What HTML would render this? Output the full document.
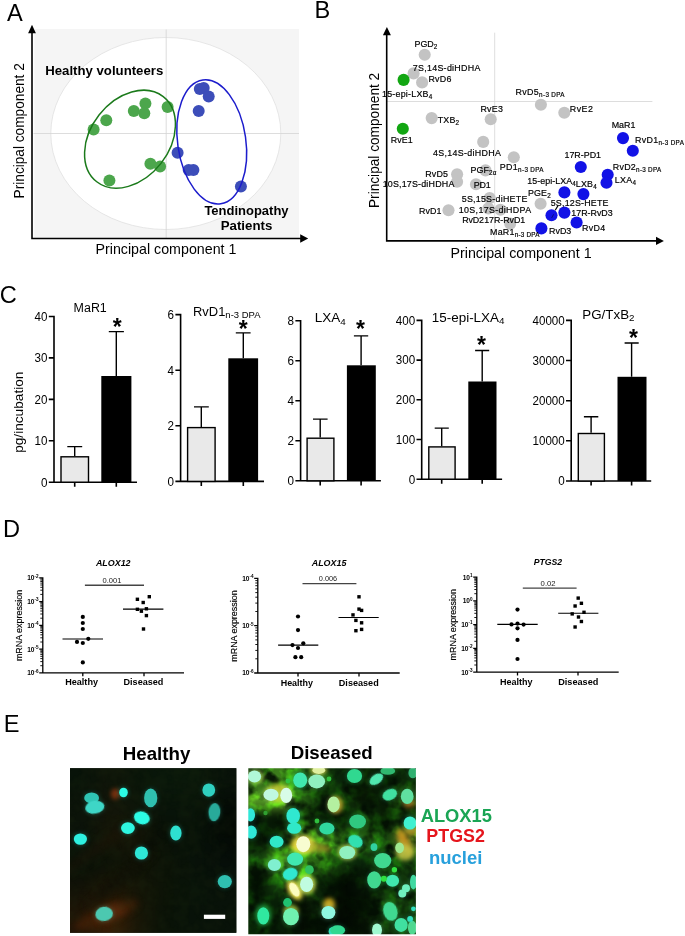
<!DOCTYPE html>
<html><head><meta charset="utf-8"><title>Figure</title>
<style>
html,body{margin:0;padding:0;background:#fff}
svg{display:block;font-family:"Liberation Sans", sans-serif}
</style></head><body>
<svg width="685" height="936" viewBox="0 0 685 936">
<rect width="685" height="936" fill="#fff"/>
<g id="panelA">
<rect x="34.3" y="29" width="264.7" height="209" fill="#f5f5f5"/>
<ellipse cx="165.8" cy="133.5" rx="115" ry="96" fill="#fff" stroke="#dcdcdc" stroke-width="0.7"/>
<path d="M33.5 133.5H299M166.2 29.5V238" stroke="#d4d4d4" stroke-width="0.8" fill="none"/>
<circle cx="93.6" cy="129.6" r="6" fill="#4ca64c"/>
<circle cx="106.3" cy="120.2" r="6" fill="#4ca64c"/>
<circle cx="133.8" cy="111.1" r="6" fill="#4ca64c"/>
<circle cx="145.4" cy="103.6" r="6" fill="#4ca64c"/>
<circle cx="144.3" cy="113.3" r="6" fill="#4ca64c"/>
<circle cx="167.6" cy="106.9" r="6" fill="#4ca64c"/>
<circle cx="150.4" cy="163.8" r="6" fill="#4ca64c"/>
<circle cx="160.1" cy="166.5" r="6" fill="#4ca64c"/>
<circle cx="109.4" cy="180.4" r="6" fill="#4ca64c"/>
<circle cx="199.8" cy="88.9" r="6" fill="#3c4db9"/>
<circle cx="203.7" cy="88.0" r="6" fill="#3c4db9"/>
<circle cx="208.7" cy="96.6" r="6" fill="#3c4db9"/>
<circle cx="198.7" cy="111.1" r="6" fill="#3c4db9"/>
<circle cx="177.6" cy="152.7" r="6" fill="#3c4db9"/>
<circle cx="188.7" cy="170.1" r="6" fill="#3c4db9"/>
<circle cx="193.4" cy="170.1" r="6" fill="#3c4db9"/>
<circle cx="240.9" cy="186.5" r="6" fill="#3c4db9"/>
<ellipse cx="130" cy="139.2" rx="54" ry="39.3" transform="rotate(-52 130 139.2)" fill="none" stroke="#1b7a1b" stroke-width="1.5"/>
<ellipse cx="211.75" cy="141.85" rx="34.1" ry="62.6" transform="rotate(-8.2 211.75 141.85)" fill="none" stroke="#1c1ccc" stroke-width="1.5"/>
<path d="M32 32V238.5H301" stroke="#000" stroke-width="1.6" fill="none"/>
<path d="M32 24.8L28.1 33.2H35.9ZM308.2 238.5L300.2 234.3V242.7Z" fill="#000"/>
<text x="6.9" y="20.7" font-size="23.6" fill="#000">A</text>
<text x="45.2" y="74.9" font-size="13" font-weight="bold" textLength="118.1" lengthAdjust="spacingAndGlyphs" fill="#000">Healthy volunteers</text>
<text x="204.4" y="215" font-size="13" font-weight="bold" textLength="84.2" lengthAdjust="spacingAndGlyphs" fill="#000">Tendinopathy</text>
<text x="220.7" y="230" font-size="13" font-weight="bold" textLength="51.6" lengthAdjust="spacingAndGlyphs" fill="#000">Patients</text>
<text x="95.5" y="254.4" font-size="14.6" textLength="140.9" lengthAdjust="spacingAndGlyphs" fill="#000">Principal component 1</text>
<text x="23.7" y="198.4" font-size="15" textLength="135.2" lengthAdjust="spacingAndGlyphs" fill="#000" transform="rotate(-90 23.7 198.4)">Principal component 2</text>
</g>
<g id="panelB">
<path d="M386.7 101.5H652.4M494.7 32.7V240.8" stroke="#d4d4d4" stroke-width="0.8" fill="none"/>
<circle cx="424.7" cy="54.8" r="6.05" fill="#c3c3c3"/>
<circle cx="413.6" cy="73.4" r="6.05" fill="#c3c3c3"/>
<circle cx="422.1" cy="82.4" r="6.05" fill="#c3c3c3"/>
<circle cx="431.7" cy="118.1" r="6.05" fill="#c3c3c3"/>
<circle cx="490.7" cy="119.3" r="6.05" fill="#c3c3c3"/>
<circle cx="540.9" cy="104.8" r="6.05" fill="#c3c3c3"/>
<circle cx="564.3" cy="112.8" r="6.05" fill="#c3c3c3"/>
<circle cx="483.2" cy="141.9" r="6.05" fill="#c3c3c3"/>
<circle cx="513.8" cy="157.2" r="6.05" fill="#c3c3c3"/>
<circle cx="485.5" cy="170.4" r="6.05" fill="#c3c3c3"/>
<circle cx="457.1" cy="174.2" r="6.05" fill="#c3c3c3"/>
<circle cx="457.1" cy="181.8" r="6.05" fill="#c3c3c3"/>
<circle cx="476" cy="184.3" r="6.05" fill="#c3c3c3"/>
<circle cx="489.7" cy="198" r="6.05" fill="#c3c3c3"/>
<circle cx="448.5" cy="210.3" r="6.05" fill="#c3c3c3"/>
<circle cx="488.4" cy="208.4" r="6.05" fill="#c3c3c3"/>
<circle cx="500.4" cy="209.7" r="6.05" fill="#c3c3c3"/>
<circle cx="510.2" cy="223.6" r="6.05" fill="#c3c3c3"/>
<circle cx="540.6" cy="203.7" r="6.05" fill="#c3c3c3"/>
<circle cx="403.6" cy="79.9" r="6.05" fill="#12a612"/>
<circle cx="402.8" cy="128.8" r="6.05" fill="#12a612"/>
<circle cx="623" cy="138.1" r="6.05" fill="#1212e6"/>
<circle cx="632.8" cy="150.7" r="6.05" fill="#1212e6"/>
<circle cx="580.8" cy="167" r="6.05" fill="#1212e6"/>
<circle cx="607.7" cy="174.8" r="6.05" fill="#1212e6"/>
<circle cx="606.5" cy="182.8" r="6.05" fill="#1212e6"/>
<circle cx="564.4" cy="192.4" r="6.05" fill="#1212e6"/>
<circle cx="583.4" cy="194.1" r="6.05" fill="#1212e6"/>
<circle cx="564.4" cy="212.6" r="6.05" fill="#1212e6"/>
<circle cx="551.5" cy="215.3" r="6.05" fill="#1212e6"/>
<circle cx="576.6" cy="222.5" r="6.05" fill="#1212e6"/>
<circle cx="541.4" cy="228.4" r="6.05" fill="#1212e6"/>
<path d="M558 205.6L555.2 210.3" stroke="#000" stroke-width="1.1"/>
<path d="M553.6 214.3L551.6 218" stroke="#08087a" stroke-width="0.9"/>
<text x="414.6" y="47" font-size="8.9" textLength="22.6" lengthAdjust="spacing" fill="#000" stroke="#000" stroke-width="0.18">PGD<tspan font-size="6.3" dy="2">2</tspan></text>
<text x="412.8" y="71.1" font-size="8.9" textLength="67.6" lengthAdjust="spacing" fill="#000" stroke="#000" stroke-width="0.18">7S,14S-diHDHA</text>
<text x="428.4" y="82.2" font-size="8.9" textLength="23.1" lengthAdjust="spacing" fill="#000" stroke="#000" stroke-width="0.18">RvD6</text>
<text x="382" y="96.7" font-size="8.9" textLength="50.2" lengthAdjust="spacing" fill="#000" stroke="#000" stroke-width="0.18">15-epi-LXB<tspan font-size="6.3" dy="2">4</tspan></text>
<text x="437.7" y="123" font-size="8.9" textLength="21.3" lengthAdjust="spacing" fill="#000" stroke="#000" stroke-width="0.18">TXB<tspan font-size="6.3" dy="2">2</tspan></text>
<text x="480.4" y="112" font-size="8.9" textLength="22.6" lengthAdjust="spacing" fill="#000" stroke="#000" stroke-width="0.18">RvE3</text>
<text x="515.5" y="95" font-size="8.9" textLength="49.0" lengthAdjust="spacing" fill="#000" stroke="#000" stroke-width="0.18">RvD5<tspan font-size="6.3" dy="2">n-3 DPA</tspan></text>
<text x="569.8" y="111.8" font-size="8.9" textLength="23.1" lengthAdjust="spacing" fill="#000" stroke="#000" stroke-width="0.18">RvE2</text>
<text x="611.7" y="127.5" font-size="8.9" textLength="23.7" lengthAdjust="spacing" fill="#000" stroke="#000" stroke-width="0.18">MaR1</text>
<text x="390.7" y="142.6" font-size="8.9" textLength="22.1" lengthAdjust="spacing" fill="#000" stroke="#000" stroke-width="0.18">RvE1</text>
<text x="433" y="155.9" font-size="8.9" textLength="67.8" lengthAdjust="spacing" fill="#000" stroke="#000" stroke-width="0.18">4S,14S-diHDHA</text>
<text x="470.6" y="173.3" font-size="8.9" textLength="25.7" lengthAdjust="spacing" fill="#000" stroke="#000" stroke-width="0.18">PGF<tspan font-size="6.3" dy="2">2α</tspan></text>
<text x="499.8" y="169.5" font-size="8.9" textLength="43.7" lengthAdjust="spacing" fill="#000" stroke="#000" stroke-width="0.18">PD1<tspan font-size="6.3" dy="2">n-3 DPA</tspan></text>
<text x="425.2" y="176.5" font-size="8.9" textLength="22.8" lengthAdjust="spacing" fill="#000" stroke="#000" stroke-width="0.18">RvD5</text>
<text x="382.7" y="187" font-size="8.9" textLength="71.6" lengthAdjust="spacing" fill="#000" stroke="#000" stroke-width="0.18">10S,17S-diHDHA</text>
<text x="473.7" y="187.8" font-size="8.9" textLength="17.0" lengthAdjust="spacing" fill="#000" stroke="#000" stroke-width="0.18">PD1</text>
<text x="461.7" y="201.5" font-size="8.9" textLength="65.6" lengthAdjust="spacing" fill="#000" stroke="#000" stroke-width="0.18">5S,15S-diHETE</text>
<text x="418.9" y="213.5" font-size="8.9" textLength="22.6" lengthAdjust="spacing" fill="#000" stroke="#000" stroke-width="0.18">RvD1</text>
<text x="458.8" y="212.8" font-size="8.9" textLength="72.3" lengthAdjust="spacing" fill="#000" stroke="#000" stroke-width="0.18">10S,17S-diHDPA</text>
<text x="462.2" y="223.2" font-size="8.9" textLength="21.8" lengthAdjust="spacing" fill="#000" stroke="#000" stroke-width="0.18">RvD2</text>
<text x="484.2" y="223.3" font-size="8.9" textLength="41.1" lengthAdjust="spacing" fill="#000" stroke="#000" stroke-width="0.18">17R-RvD1</text>
<text x="490" y="234.6" font-size="8.9" textLength="49.5" lengthAdjust="spacing" fill="#000" stroke="#000" stroke-width="0.18">MaR1<tspan font-size="6.3" dy="2">n-3 DPA</tspan></text>
<text x="634.9" y="142.6" font-size="8.9" textLength="49.0" lengthAdjust="spacing" fill="#000" stroke="#000" stroke-width="0.18">RvD1<tspan font-size="6.3" dy="2">n-3 DPA</tspan></text>
<text x="564.5" y="157.7" font-size="8.9" textLength="36.5" lengthAdjust="spacing" fill="#000" stroke="#000" stroke-width="0.18">17R-PD1</text>
<text x="612.7" y="170.3" font-size="8.9" textLength="48.5" lengthAdjust="spacing" fill="#000" stroke="#000" stroke-width="0.18">RvD2<tspan font-size="6.3" dy="2">n-3 DPA</tspan></text>
<text x="614.8" y="183.3" font-size="8.9" textLength="21.3" lengthAdjust="spacing" fill="#000" stroke="#000" stroke-width="0.18">LXA<tspan font-size="6.3" dy="2">4</tspan></text>
<text x="527.3" y="183.6" font-size="8.9" textLength="48.5" lengthAdjust="spacing" fill="#000" stroke="#000" stroke-width="0.18">15-epi-LXA<tspan font-size="6.3" dy="2">4</tspan></text>
<text x="575.8" y="187.3" font-size="8.9" textLength="20.9" lengthAdjust="spacing" fill="#000" stroke="#000" stroke-width="0.18">LXB<tspan font-size="6.3" dy="2">4</tspan></text>
<text x="528" y="196.1" font-size="8.9" textLength="22.7" lengthAdjust="spacing" fill="#000" stroke="#000" stroke-width="0.18">PGE<tspan font-size="6.3" dy="2">2</tspan></text>
<text x="550.7" y="206.1" font-size="8.9" textLength="57.8" lengthAdjust="spacing" fill="#000" stroke="#000" stroke-width="0.18">5S,12S-HETE</text>
<text x="571.3" y="215.5" font-size="8.9" textLength="41.4" lengthAdjust="spacing" fill="#000" stroke="#000" stroke-width="0.18">17R-RvD3</text>
<text x="582" y="231.3" font-size="8.9" textLength="23.2" lengthAdjust="spacing" fill="#000" stroke="#000" stroke-width="0.18">RvD4</text>
<text x="549" y="233.6" font-size="8.9" textLength="22.3" lengthAdjust="spacing" fill="#000" stroke="#000" stroke-width="0.18">RvD3</text>
<path d="M386.7 34V240.9H657" stroke="#000" stroke-width="1.6" fill="none"/>
<path d="M386.9 27L382.9 35.3H390.9ZM663.9 240.9L656 236.7V245.1Z" fill="#000"/>
<text x="314.5" y="17.8" font-size="23.6" fill="#000">B</text>
<text x="450.5" y="257.7" font-size="14.6" textLength="141.1" lengthAdjust="spacingAndGlyphs" fill="#000">Principal component 1</text>
<text x="379.2" y="208" font-size="15" textLength="135.2" lengthAdjust="spacingAndGlyphs" fill="#000" transform="rotate(-90 379.2 208)">Principal component 2</text>
</g>
<g id="panelC">
<text x="-0.2" y="302.6" font-size="23.6" fill="#000">C</text>
<text x="22.6" y="452.8" font-size="13.6" textLength="81.2" lengthAdjust="spacingAndGlyphs" fill="#000" transform="rotate(-90 22.6 452.8)">pg/incubation</text>
<path d="M54 315.7V482.2M48.8 482.2H137M48.8 316.5H54M48.8 357.9H54M48.8 399.4H54M48.8 440.8H54M48.8 482.2H54M74.7 482.2V486.8M116.3 482.2V486.8" stroke="#000" stroke-width="1.6" fill="none"/>
<text x="47.5" y="320.8" font-size="12" text-anchor="end" textLength="12.9" lengthAdjust="spacingAndGlyphs" fill="#000">40</text>
<text x="47.5" y="362.2" font-size="12" text-anchor="end" textLength="12.9" lengthAdjust="spacingAndGlyphs" fill="#000">30</text>
<text x="47.5" y="403.7" font-size="12" text-anchor="end" textLength="12.9" lengthAdjust="spacingAndGlyphs" fill="#000">20</text>
<text x="47.5" y="445.1" font-size="12" text-anchor="end" textLength="12.9" lengthAdjust="spacingAndGlyphs" fill="#000">10</text>
<text x="47.5" y="486.5" font-size="12" text-anchor="end" textLength="6.5" lengthAdjust="spacingAndGlyphs" fill="#000">0</text>
<path d="M74.7 456.1V446.6M67.3 446.6H82.2" stroke="#000" stroke-width="1.4" fill="none"/>
<path d="M116.3 376V331.6M108.8 331.6H123.9" stroke="#000" stroke-width="1.4" fill="none"/>
<rect x="61.0" y="456.8" width="27.500000000000007" height="25.399999999999967" fill="#e9e9e9" stroke="#000" stroke-width="1.4"/>
<rect x="101.3" y="376" width="30.10000000000001" height="106.19999999999999" fill="#000"/>
<text x="117.3" y="335.3" font-size="23" font-weight="bold" text-anchor="middle" fill="#000">*</text>
<text x="73.6" y="311.5" font-size="12.3" textLength="33.2" lengthAdjust="spacingAndGlyphs" fill="#000">MaR1</text>
<path d="M180.6 313.8V481.4M175.4 481.4H264M175.4 314.6H180.6M175.4 370.2H180.6M175.4 425.8H180.6M175.4 481.4H180.6M201.3 481.4V486.0M243.3 481.4V486.0" stroke="#000" stroke-width="1.6" fill="none"/>
<text x="174.1" y="318.90000000000003" font-size="12" text-anchor="end" textLength="6.5" lengthAdjust="spacingAndGlyphs" fill="#000">6</text>
<text x="174.1" y="374.5" font-size="12" text-anchor="end" textLength="6.5" lengthAdjust="spacingAndGlyphs" fill="#000">4</text>
<text x="174.1" y="430.1" font-size="12" text-anchor="end" textLength="6.5" lengthAdjust="spacingAndGlyphs" fill="#000">2</text>
<text x="174.1" y="485.7" font-size="12" text-anchor="end" textLength="6.5" lengthAdjust="spacingAndGlyphs" fill="#000">0</text>
<path d="M201.3 426.9V406.9M194 406.9H208.8" stroke="#000" stroke-width="1.4" fill="none"/>
<path d="M243.3 358.3V332.9M235.8 332.9H250.6" stroke="#000" stroke-width="1.4" fill="none"/>
<rect x="187.6" y="427.59999999999997" width="27.500000000000007" height="53.8" fill="#e9e9e9" stroke="#000" stroke-width="1.4"/>
<rect x="228.3" y="358.3" width="29.80000000000001" height="123.09999999999997" fill="#000"/>
<text x="243.3" y="336.8" font-size="23" font-weight="bold" text-anchor="middle" fill="#000">*</text>
<text x="193" y="315.7" font-size="12.3" textLength="67.5" lengthAdjust="spacingAndGlyphs" fill="#000">RvD1<tspan font-size="9" dy="2.2">n-3 DPA</tspan></text>
<path d="M300.6 319.9V480.8M295.40000000000003 480.8H380.9M295.40000000000003 320.7H300.6M295.40000000000003 360.7H300.6M295.40000000000003 400.7H300.6M295.40000000000003 440.8H300.6M295.40000000000003 480.8H300.6M320.2 480.8V485.40000000000003M361.1 480.8V485.40000000000003" stroke="#000" stroke-width="1.6" fill="none"/>
<text x="294.1" y="325.0" font-size="12" text-anchor="end" textLength="6.5" lengthAdjust="spacingAndGlyphs" fill="#000">8</text>
<text x="294.1" y="365.0" font-size="12" text-anchor="end" textLength="6.5" lengthAdjust="spacingAndGlyphs" fill="#000">6</text>
<text x="294.1" y="405.0" font-size="12" text-anchor="end" textLength="6.5" lengthAdjust="spacingAndGlyphs" fill="#000">4</text>
<text x="294.1" y="445.1" font-size="12" text-anchor="end" textLength="6.5" lengthAdjust="spacingAndGlyphs" fill="#000">2</text>
<text x="294.1" y="485.1" font-size="12" text-anchor="end" textLength="6.5" lengthAdjust="spacingAndGlyphs" fill="#000">0</text>
<path d="M320.2 437.5V419.1M313 419.1H327.6" stroke="#000" stroke-width="1.4" fill="none"/>
<path d="M361.1 365.3V335.9M353.9 335.9H368.2" stroke="#000" stroke-width="1.4" fill="none"/>
<rect x="307.09999999999997" y="438.2" width="26.800000000000047" height="42.60000000000001" fill="#e9e9e9" stroke="#000" stroke-width="1.4"/>
<rect x="346.9" y="365.3" width="28.900000000000034" height="115.5" fill="#000"/>
<text x="360.6" y="337.40000000000003" font-size="23" font-weight="bold" text-anchor="middle" fill="#000">*</text>
<text x="314.7" y="322.3" font-size="12.3" textLength="31" lengthAdjust="spacingAndGlyphs" fill="#000">LXA<tspan font-size="9" dy="2.2">4</tspan></text>
<path d="M421.7 319.59999999999997V479.2M416.5 479.2H502.1M416.5 320.4H421.7M416.5 360.1H421.7M416.5 399.8H421.7M416.5 439.5H421.7M416.5 479.2H421.7M441.7 479.2V483.8M482.2 479.2V483.8" stroke="#000" stroke-width="1.6" fill="none"/>
<text x="415.2" y="324.7" font-size="12" text-anchor="end" textLength="19.4" lengthAdjust="spacingAndGlyphs" fill="#000">400</text>
<text x="415.2" y="364.40000000000003" font-size="12" text-anchor="end" textLength="19.4" lengthAdjust="spacingAndGlyphs" fill="#000">300</text>
<text x="415.2" y="404.1" font-size="12" text-anchor="end" textLength="19.4" lengthAdjust="spacingAndGlyphs" fill="#000">200</text>
<text x="415.2" y="443.8" font-size="12" text-anchor="end" textLength="19.4" lengthAdjust="spacingAndGlyphs" fill="#000">100</text>
<text x="415.2" y="483.5" font-size="12" text-anchor="end" textLength="6.5" lengthAdjust="spacingAndGlyphs" fill="#000">0</text>
<path d="M441.7 446.2V428.1M434.7 428.1H448.8" stroke="#000" stroke-width="1.4" fill="none"/>
<path d="M482.2 381.5V350.5M475.1 350.5H489.2" stroke="#000" stroke-width="1.4" fill="none"/>
<rect x="428.8" y="446.9" width="26.29999999999999" height="32.3" fill="#e9e9e9" stroke="#000" stroke-width="1.4"/>
<rect x="468.3" y="381.5" width="28.19999999999999" height="97.69999999999999" fill="#000"/>
<text x="481.4" y="352.6" font-size="23" font-weight="bold" text-anchor="middle" fill="#000">*</text>
<text x="431.8" y="321.6" font-size="12.3" textLength="72.7" lengthAdjust="spacingAndGlyphs" fill="#000">15-epi-LXA<tspan font-size="9" dy="2.2">4</tspan></text>
<path d="M571.2 319.59999999999997V481M566.0 481H651.2M566.0 320.4H571.2M566.0 360.5H571.2M566.0 400.7H571.2M566.0 440.8H571.2M566.0 481H571.2M591.1 481V485.6M631.6 481V485.6" stroke="#000" stroke-width="1.6" fill="none"/>
<text x="564.7" y="324.7" font-size="12" text-anchor="end" textLength="32.2" lengthAdjust="spacingAndGlyphs" fill="#000">40000</text>
<text x="564.7" y="364.8" font-size="12" text-anchor="end" textLength="32.2" lengthAdjust="spacingAndGlyphs" fill="#000">30000</text>
<text x="564.7" y="405.0" font-size="12" text-anchor="end" textLength="32.2" lengthAdjust="spacingAndGlyphs" fill="#000">20000</text>
<text x="564.7" y="445.1" font-size="12" text-anchor="end" textLength="32.2" lengthAdjust="spacingAndGlyphs" fill="#000">10000</text>
<text x="564.7" y="485.3" font-size="12" text-anchor="end" textLength="6.5" lengthAdjust="spacingAndGlyphs" fill="#000">0</text>
<path d="M591.1 432.8V416.8M583.9 416.8H598.3" stroke="#000" stroke-width="1.4" fill="none"/>
<path d="M631.6 376.8V343M624.6 343H638.7" stroke="#000" stroke-width="1.4" fill="none"/>
<rect x="578.3000000000001" y="433.5" width="26.1" height="47.499999999999986" fill="#e9e9e9" stroke="#000" stroke-width="1.4"/>
<rect x="617.5" y="376.8" width="29.0" height="104.19999999999999" fill="#000"/>
<text x="633.5" y="345.6" font-size="23" font-weight="bold" text-anchor="middle" fill="#000">*</text>
<text x="582.3" y="318.8" font-size="12.3" textLength="52.2" lengthAdjust="spacingAndGlyphs" fill="#000">PG/TxB<tspan font-size="9" dy="2.2">2</tspan></text>
</g>
<g id="panelD">
<text x="3.1" y="536.9" font-size="23.6" fill="#000">D</text>
<path d="M42.8 577.1999999999999V672.9M39.199999999999996 672.9H184M39.199999999999996 577.8H42.8M39.199999999999996 601.6H42.8M39.199999999999996 625.3H42.8M39.199999999999996 649.1H42.8M39.199999999999996 672.9H42.8M82.8 672.9V676.3M144 672.9V676.3" stroke="#000" stroke-width="1.3" fill="none"/>
<path d="M40.3 594.4H42.8M40.3 590.2H42.8M40.3 587.3H42.8M40.3 585.0H42.8M40.3 583.1H42.8M40.3 581.5H42.8M40.3 580.1H42.8M40.3 578.9H42.8M40.3 618.2H42.8M40.3 614.0H42.8M40.3 611.0H42.8M40.3 608.7H42.8M40.3 606.8H42.8M40.3 605.3H42.8M40.3 603.9H42.8M40.3 602.7H42.8M40.3 642.0H42.8M40.3 637.8H42.8M40.3 634.8H42.8M40.3 632.5H42.8M40.3 630.6H42.8M40.3 629.0H42.8M40.3 627.7H42.8M40.3 626.4H42.8M40.3 665.7H42.8M40.3 661.6H42.8M40.3 658.6H42.8M40.3 656.3H42.8M40.3 654.4H42.8M40.3 652.8H42.8M40.3 651.4H42.8M40.3 650.2H42.8" stroke="#000" stroke-width="0.9" fill="none"/>
<text x="38.599999999999994" y="580.1999999999999" font-size="6.6" font-weight="bold" text-anchor="end" fill="#000">10<tspan font-size="4.6" dy="-2.6">-2</tspan></text>
<text x="38.599999999999994" y="603.9749999999999" font-size="6.6" font-weight="bold" text-anchor="end" fill="#000">10<tspan font-size="4.6" dy="-2.6">-3</tspan></text>
<text x="38.599999999999994" y="627.7499999999999" font-size="6.6" font-weight="bold" text-anchor="end" fill="#000">10<tspan font-size="4.6" dy="-2.6">-4</tspan></text>
<text x="38.599999999999994" y="651.525" font-size="6.6" font-weight="bold" text-anchor="end" fill="#000">10<tspan font-size="4.6" dy="-2.6">-5</tspan></text>
<text x="38.599999999999994" y="675.3" font-size="6.6" font-weight="bold" text-anchor="end" fill="#000">10<tspan font-size="4.6" dy="-2.6">-6</tspan></text>
<text x="95.9" y="565.7" font-size="8.9" font-weight="bold" textLength="34.7" lengthAdjust="spacingAndGlyphs" fill="#000" font-style="italic">ALOX12</text>
<text x="22.2" y="661.1" font-size="8.9" textLength="71.3" lengthAdjust="spacingAndGlyphs" fill="#000" transform="rotate(-90 22.2 661.1)" stroke="#000" stroke-width="0.15">mRNA expression</text>
<path d="M84.9 585.2H144" stroke="#444" stroke-width="1.4"/>
<text x="102.5" y="582.8" font-size="7.4" textLength="18.9" lengthAdjust="spacingAndGlyphs" fill="#222">0.001</text>
<circle cx="82.8" cy="616.9" r="2.1" fill="#000"/>
<circle cx="82.8" cy="623" r="2.1" fill="#000"/>
<circle cx="82.8" cy="629" r="2.1" fill="#000"/>
<circle cx="88.3" cy="638.8" r="2.1" fill="#000"/>
<circle cx="77" cy="641.9" r="2.1" fill="#000"/>
<circle cx="82.8" cy="643" r="2.1" fill="#000"/>
<circle cx="82.8" cy="662.4" r="2.1" fill="#000"/>
<rect x="147.6" y="595.0" width="3.4" height="3.4" fill="#000"/>
<rect x="135.7" y="597.6" width="3.4" height="3.4" fill="#000"/>
<rect x="141.5" y="600.8" width="3.4" height="3.4" fill="#000"/>
<rect x="135.7" y="607.6" width="3.4" height="3.4" fill="#000"/>
<rect x="144.7" y="607.1" width="3.4" height="3.4" fill="#000"/>
<rect x="139.7" y="609.5" width="3.4" height="3.4" fill="#000"/>
<rect x="144.7" y="613.9" width="3.4" height="3.4" fill="#000"/>
<rect x="141.8" y="627.3" width="3.4" height="3.4" fill="#000"/>
<path d="M62.5 639H103M123 609.1H163.4" stroke="#000" stroke-width="1.1"/>
<text x="65.2" y="684.7" font-size="9.6" font-weight="bold" textLength="32.8" lengthAdjust="spacingAndGlyphs" fill="#000">Healthy</text>
<text x="123.5" y="684.7" font-size="9.6" font-weight="bold" textLength="39.9" lengthAdjust="spacingAndGlyphs" fill="#000">Diseased</text>
<path d="M257.8 577.8V673M254.20000000000002 673H399.7M254.20000000000002 578.4H257.8M254.20000000000002 625.7H257.8M254.20000000000002 673.0H257.8M298 673V676.4M359 673V676.4" stroke="#000" stroke-width="1.3" fill="none"/>
<path d="M255.3 611.5H257.8M255.3 603.1H257.8M255.3 597.2H257.8M255.3 592.6H257.8M255.3 588.9H257.8M255.3 585.7H257.8M255.3 583.0H257.8M255.3 580.6H257.8M255.3 658.8H257.8M255.3 650.4H257.8M255.3 644.5H257.8M255.3 639.9H257.8M255.3 636.2H257.8M255.3 633.0H257.8M255.3 630.3H257.8M255.3 627.9H257.8" stroke="#000" stroke-width="0.9" fill="none"/>
<text x="253.60000000000002" y="580.8" font-size="6.6" font-weight="bold" text-anchor="end" fill="#000">10<tspan font-size="4.6" dy="-2.6">-4</tspan></text>
<text x="253.60000000000002" y="628.1" font-size="6.6" font-weight="bold" text-anchor="end" fill="#000">10<tspan font-size="4.6" dy="-2.6">-5</tspan></text>
<text x="253.60000000000002" y="675.4" font-size="6.6" font-weight="bold" text-anchor="end" fill="#000">10<tspan font-size="4.6" dy="-2.6">-6</tspan></text>
<text x="311.7" y="566.3" font-size="8.9" font-weight="bold" textLength="34.7" lengthAdjust="spacingAndGlyphs" fill="#000" font-style="italic">ALOX15</text>
<text x="237.3" y="661.7" font-size="8.9" textLength="71.3" lengthAdjust="spacingAndGlyphs" fill="#000" transform="rotate(-90 237.3 661.7)" stroke="#000" stroke-width="0.15">mRNA expression</text>
<path d="M302.5 583.6H356.4" stroke="#444" stroke-width="1.4"/>
<text x="318.8" y="581" font-size="7.4" textLength="18.4" lengthAdjust="spacingAndGlyphs" fill="#222">0.006</text>
<circle cx="298" cy="616.5" r="2.1" fill="#000"/>
<circle cx="298" cy="630.1" r="2.1" fill="#000"/>
<circle cx="303.3" cy="643.3" r="2.1" fill="#000"/>
<circle cx="292.5" cy="645.1" r="2.1" fill="#000"/>
<circle cx="298" cy="648" r="2.1" fill="#000"/>
<circle cx="295.4" cy="657.2" r="2.1" fill="#000"/>
<circle cx="301.2" cy="657.2" r="2.1" fill="#000"/>
<rect x="357.3" y="595.1" width="3.4" height="3.4" fill="#000"/>
<rect x="357.3" y="607.4" width="3.4" height="3.4" fill="#000"/>
<rect x="359.9" y="608.7" width="3.4" height="3.4" fill="#000"/>
<rect x="351.3" y="613.2" width="3.4" height="3.4" fill="#000"/>
<rect x="354.2" y="618.7" width="3.4" height="3.4" fill="#000"/>
<rect x="359.9" y="621.1" width="3.4" height="3.4" fill="#000"/>
<rect x="354.2" y="629.0" width="3.4" height="3.4" fill="#000"/>
<rect x="359.9" y="627.7" width="3.4" height="3.4" fill="#000"/>
<path d="M278.1 645.1H318.3M338.5 617.5H378.7" stroke="#000" stroke-width="1.1"/>
<text x="280.7" y="685.9" font-size="9.6" font-weight="bold" textLength="32.3" lengthAdjust="spacingAndGlyphs" fill="#000">Healthy</text>
<text x="338.8" y="685.9" font-size="9.6" font-weight="bold" textLength="39.9" lengthAdjust="spacingAndGlyphs" fill="#000">Diseased</text>
<path d="M476.8 576.5V672.2M473.2 672.2H618.7M473.2 577.1H476.8M473.2 600.9H476.8M473.2 624.7H476.8M473.2 648.4H476.8M473.2 672.2H476.8M517.5 672.2V675.6M578 672.2V675.6" stroke="#000" stroke-width="1.3" fill="none"/>
<path d="M474.3 593.7H476.8M474.3 589.5H476.8M474.3 586.6H476.8M474.3 584.3H476.8M474.3 582.4H476.8M474.3 580.8H476.8M474.3 579.4H476.8M474.3 578.2H476.8M474.3 617.5H476.8M474.3 613.3H476.8M474.3 610.3H476.8M474.3 608.0H476.8M474.3 606.1H476.8M474.3 604.6H476.8M474.3 603.2H476.8M474.3 602.0H476.8M474.3 641.3H476.8M474.3 637.1H476.8M474.3 634.1H476.8M474.3 631.8H476.8M474.3 629.9H476.8M474.3 628.3H476.8M474.3 627.0H476.8M474.3 625.7H476.8M474.3 665.0H476.8M474.3 660.9H476.8M474.3 657.9H476.8M474.3 655.6H476.8M474.3 653.7H476.8M474.3 652.1H476.8M474.3 650.7H476.8M474.3 649.5H476.8" stroke="#000" stroke-width="0.9" fill="none"/>
<text x="472.6" y="579.5" font-size="6.6" font-weight="bold" text-anchor="end" fill="#000">10<tspan font-size="4.6" dy="-2.6">1</tspan></text>
<text x="472.6" y="603.275" font-size="6.6" font-weight="bold" text-anchor="end" fill="#000">10<tspan font-size="4.6" dy="-2.6">0</tspan></text>
<text x="472.6" y="627.0500000000001" font-size="6.6" font-weight="bold" text-anchor="end" fill="#000">10<tspan font-size="4.6" dy="-2.6">-1</tspan></text>
<text x="472.6" y="650.825" font-size="6.6" font-weight="bold" text-anchor="end" fill="#000">10<tspan font-size="4.6" dy="-2.6">-2</tspan></text>
<text x="472.6" y="674.6" font-size="6.6" font-weight="bold" text-anchor="end" fill="#000">10<tspan font-size="4.6" dy="-2.6">-3</tspan></text>
<text x="533.8" y="565.2" font-size="8.9" font-weight="bold" textLength="28.4" lengthAdjust="spacingAndGlyphs" fill="#000" font-style="italic">PTGS2</text>
<text x="456.2" y="660.4" font-size="8.9" textLength="71.3" lengthAdjust="spacingAndGlyphs" fill="#000" transform="rotate(-90 456.2 660.4)" stroke="#000" stroke-width="0.15">mRNA expression</text>
<path d="M522.8 588.1H576.6" stroke="#444" stroke-width="1.4"/>
<text x="540.6" y="585.5" font-size="7.4" textLength="15.0" lengthAdjust="spacingAndGlyphs" fill="#222">0.02</text>
<circle cx="517.5" cy="609.6" r="2.1" fill="#000"/>
<circle cx="511.5" cy="624.4" r="2.1" fill="#000"/>
<circle cx="517.5" cy="623.6" r="2.1" fill="#000"/>
<circle cx="523.6" cy="624.6" r="2.1" fill="#000"/>
<circle cx="517.5" cy="628.3" r="2.1" fill="#000"/>
<circle cx="517.5" cy="639.9" r="2.1" fill="#000"/>
<circle cx="517.5" cy="659" r="2.1" fill="#000"/>
<rect x="576.5" y="596.4" width="3.4" height="3.4" fill="#000"/>
<rect x="579.7" y="601.6" width="3.4" height="3.4" fill="#000"/>
<rect x="573.4" y="604.3" width="3.4" height="3.4" fill="#000"/>
<rect x="582.3" y="610.6" width="3.4" height="3.4" fill="#000"/>
<rect x="570.5" y="612.2" width="3.4" height="3.4" fill="#000"/>
<rect x="576.8" y="615.3" width="3.4" height="3.4" fill="#000"/>
<rect x="579.7" y="619.8" width="3.4" height="3.4" fill="#000"/>
<rect x="573.4" y="625.3" width="3.4" height="3.4" fill="#000"/>
<path d="M497.3 624.4H537.7M558.2 613.3H598.4" stroke="#000" stroke-width="1.1"/>
<text x="499.9" y="684.5" font-size="9.6" font-weight="bold" textLength="32.6" lengthAdjust="spacingAndGlyphs" fill="#000">Healthy</text>
<text x="558.2" y="684.5" font-size="9.6" font-weight="bold" textLength="40.2" lengthAdjust="spacingAndGlyphs" fill="#000">Diseased</text>
</g>
<g id="panelE">
<text x="3.8" y="732.2" font-size="23.6" fill="#000">E</text>
<text x="122.8" y="760.1" font-size="18.4" font-weight="bold" textLength="67.6" lengthAdjust="spacingAndGlyphs" fill="#000">Healthy</text>
<text x="290.7" y="759.2" font-size="18.4" font-weight="bold" textLength="82" lengthAdjust="spacingAndGlyphs" fill="#000">Diseased</text>
<text x="420.7" y="821.6" font-size="18" font-weight="bold" textLength="71.2" lengthAdjust="spacingAndGlyphs" fill="#1aa554">ALOX15</text>
<text x="426.3" y="842.4" font-size="18" font-weight="bold" textLength="58.6" lengthAdjust="spacingAndGlyphs" fill="#e5151c">PTGS2</text>
<text x="428.9" y="864.4" font-size="18" font-weight="bold" textLength="53.4" lengthAdjust="spacingAndGlyphs" fill="#27a0dc">nuclei</text>
<defs>
<filter color-interpolation-filters="sRGB" id="b1" x="-30%" y="-30%" width="160%" height="160%"><feGaussianBlur stdDeviation="0.6"/></filter>
<filter color-interpolation-filters="sRGB" id="b2" x="-60%" y="-60%" width="220%" height="220%"><feGaussianBlur stdDeviation="2"/></filter>
<filter color-interpolation-filters="sRGB" id="b3" x="-60%" y="-60%" width="220%" height="220%"><feGaussianBlur stdDeviation="3.5"/></filter>
<filter color-interpolation-filters="sRGB" id="bg" x="-10%" y="-10%" width="120%" height="120%"><feGaussianBlur stdDeviation="5.5"/></filter>
<filter color-interpolation-filters="sRGB" id="bgA" x="-10%" y="-10%" width="120%" height="120%"><feGaussianBlur stdDeviation="11"/></filter>
<filter color-interpolation-filters="sRGB" id="nz" x="0" y="0" width="100%" height="100%"><feTurbulence type="fractalNoise" baseFrequency="0.07" numOctaves="3" seed="11" result="t"/><feColorMatrix in="t" type="matrix" values="0 0 0 0 0.75  0 0 0 0 0.95  0 0 0 0 0.45  0 3.2 0 0 -1.3"/></filter>
<filter color-interpolation-filters="sRGB" id="nd" x="0" y="0" width="100%" height="100%"><feTurbulence type="fractalNoise" baseFrequency="0.06" numOctaves="3" seed="23" result="t"/><feColorMatrix in="t" type="matrix" values="0 0 0 0 0.01  0 0 0 0 0.05  0 0 0 0 0.01  3.4 0 0 0 -1.6"/></filter>
<filter color-interpolation-filters="sRGB" id="n1" x="0" y="0" width="100%" height="100%"><feTurbulence type="fractalNoise" baseFrequency="0.09" numOctaves="3" seed="5" result="t"/><feColorMatrix in="t" type="matrix" values="0 0 0 0 0.15  0 0 0 0 0.20  0 0 0 0 0.08  0 2.5 0 0 -0.9"/></filter>
<clipPath id="c1"><rect x="70" y="768.3" width="166.3" height="164.4"/></clipPath>
<clipPath id="c2"><rect x="248.3" y="768.3" width="167.6" height="166"/></clipPath>
</defs>
<g clip-path="url(#c1)">
<rect x="69" y="767" width="169" height="167" fill="#0a140a"/>
<g filter="url(#bgA)">
<rect x="42.0" y="740.6" width="28.3" height="28.0" fill="#081309"/>
<rect x="69.7" y="740.6" width="28.3" height="28.0" fill="#081309"/>
<rect x="97.4" y="740.6" width="28.3" height="28.0" fill="#101509"/>
<rect x="125.1" y="740.6" width="28.3" height="28.0" fill="#091509"/>
<rect x="152.8" y="740.6" width="28.3" height="28.0" fill="#09170a"/>
<rect x="180.6" y="740.6" width="28.3" height="28.0" fill="#0b190a"/>
<rect x="208.3" y="740.6" width="28.3" height="28.0" fill="#081209"/>
<rect x="236.0" y="740.6" width="28.3" height="28.0" fill="#081209"/>
<rect x="42.0" y="768.0" width="28.3" height="28.0" fill="#081309"/>
<rect x="69.7" y="768.0" width="28.3" height="28.0" fill="#081309"/>
<rect x="97.4" y="768.0" width="28.3" height="28.0" fill="#101509"/>
<rect x="125.1" y="768.0" width="28.3" height="28.0" fill="#091509"/>
<rect x="152.8" y="768.0" width="28.3" height="28.0" fill="#09170a"/>
<rect x="180.6" y="768.0" width="28.3" height="28.0" fill="#0b190a"/>
<rect x="208.3" y="768.0" width="28.3" height="28.0" fill="#081209"/>
<rect x="236.0" y="768.0" width="28.3" height="28.0" fill="#081209"/>
<rect x="42.0" y="795.4" width="28.3" height="28.0" fill="#0c1309"/>
<rect x="69.7" y="795.4" width="28.3" height="28.0" fill="#0c1309"/>
<rect x="97.4" y="795.4" width="28.3" height="28.0" fill="#141509"/>
<rect x="125.1" y="795.4" width="28.3" height="28.0" fill="#0c1509"/>
<rect x="152.8" y="795.4" width="28.3" height="28.0" fill="#081209"/>
<rect x="180.6" y="795.4" width="28.3" height="28.0" fill="#091509"/>
<rect x="208.3" y="795.4" width="28.3" height="28.0" fill="#040a05"/>
<rect x="236.0" y="795.4" width="28.3" height="28.0" fill="#040a05"/>
<rect x="42.0" y="822.8" width="28.3" height="28.0" fill="#091209"/>
<rect x="69.7" y="822.8" width="28.3" height="28.0" fill="#091209"/>
<rect x="97.4" y="822.8" width="28.3" height="28.0" fill="#161507"/>
<rect x="125.1" y="822.8" width="28.3" height="28.0" fill="#131307"/>
<rect x="152.8" y="822.8" width="28.3" height="28.0" fill="#081007"/>
<rect x="180.6" y="822.8" width="28.3" height="28.0" fill="#081309"/>
<rect x="208.3" y="822.8" width="28.3" height="28.0" fill="#040a05"/>
<rect x="236.0" y="822.8" width="28.3" height="28.0" fill="#040a05"/>
<rect x="42.0" y="850.2" width="28.3" height="28.0" fill="#081007"/>
<rect x="69.7" y="850.2" width="28.3" height="28.0" fill="#081007"/>
<rect x="97.4" y="850.2" width="28.3" height="28.0" fill="#0c1207"/>
<rect x="125.1" y="850.2" width="28.3" height="28.0" fill="#101307"/>
<rect x="152.8" y="850.2" width="28.3" height="28.0" fill="#0b1207"/>
<rect x="180.6" y="850.2" width="28.3" height="28.0" fill="#081209"/>
<rect x="208.3" y="850.2" width="28.3" height="28.0" fill="#060e09"/>
<rect x="236.0" y="850.2" width="28.3" height="28.0" fill="#060e09"/>
<rect x="42.0" y="877.6" width="28.3" height="28.0" fill="#131207"/>
<rect x="69.7" y="877.6" width="28.3" height="28.0" fill="#131207"/>
<rect x="97.4" y="877.6" width="28.3" height="28.0" fill="#211707"/>
<rect x="125.1" y="877.6" width="28.3" height="28.0" fill="#141507"/>
<rect x="152.8" y="877.6" width="28.3" height="28.0" fill="#0b1307"/>
<rect x="180.6" y="877.6" width="28.3" height="28.0" fill="#081309"/>
<rect x="208.3" y="877.6" width="28.3" height="28.0" fill="#081209"/>
<rect x="236.0" y="877.6" width="28.3" height="28.0" fill="#081209"/>
<rect x="42.0" y="905.0" width="28.3" height="28.0" fill="#211507"/>
<rect x="69.7" y="905.0" width="28.3" height="28.0" fill="#211507"/>
<rect x="97.4" y="905.0" width="28.3" height="28.0" fill="#3b2007"/>
<rect x="125.1" y="905.0" width="28.3" height="28.0" fill="#161507"/>
<rect x="152.8" y="905.0" width="28.3" height="28.0" fill="#091207"/>
<rect x="180.6" y="905.0" width="28.3" height="28.0" fill="#081209"/>
<rect x="208.3" y="905.0" width="28.3" height="28.0" fill="#081209"/>
<rect x="236.0" y="905.0" width="28.3" height="28.0" fill="#081209"/>
<rect x="42.0" y="932.4" width="28.3" height="28.0" fill="#211507"/>
<rect x="69.7" y="932.4" width="28.3" height="28.0" fill="#211507"/>
<rect x="97.4" y="932.4" width="28.3" height="28.0" fill="#3b2007"/>
<rect x="125.1" y="932.4" width="28.3" height="28.0" fill="#161507"/>
<rect x="152.8" y="932.4" width="28.3" height="28.0" fill="#091207"/>
<rect x="180.6" y="932.4" width="28.3" height="28.0" fill="#081209"/>
<rect x="208.3" y="932.4" width="28.3" height="28.0" fill="#081209"/>
<rect x="236.0" y="932.4" width="28.3" height="28.0" fill="#081209"/>
</g>
<ellipse cx="106" cy="915" rx="34" ry="9" fill="#4a2208" transform="rotate(-22 106 915)" filter="url(#b3)" opacity="0.7"/>
<ellipse cx="110" cy="913" rx="15" ry="7" fill="#6a3010" transform="rotate(-20 110 913)" filter="url(#b3)" opacity="0.6"/>
<ellipse cx="95" cy="850" rx="40" ry="6" fill="#1e1608" transform="rotate(-35 95 850)" filter="url(#b3)" opacity="0.5"/>
<ellipse cx="120" cy="880" rx="45" ry="5" fill="#1a1408" transform="rotate(-40 120 880)" filter="url(#b3)" opacity="0.5"/>
<ellipse cx="115.3" cy="793.9" rx="4.5" ry="5.5" fill="#8a3410" filter="url(#b2)" opacity="0.9"/>
<ellipse cx="150" cy="845" rx="5" ry="22" fill="#050a05" transform="rotate(40 150 845)" filter="url(#b3)" opacity="0.45"/>
<ellipse cx="120" cy="880" rx="6" ry="30" fill="#060b06" transform="rotate(55 120 880)" filter="url(#b3)" opacity="0.4"/>
<rect x="70" y="768" width="167" height="165" filter="url(#n1)" opacity="0.15"/>
<ellipse cx="91.6" cy="797.9" rx="7.9" ry="5.9" fill="#2fc4b4" filter="url(#b2)" opacity="0.28"/>
<ellipse cx="91.6" cy="797.9" rx="7.4" ry="5.4" fill="#2fc4b4" filter="url(#b1)"/>
<ellipse cx="94.8" cy="807.2" rx="10.1" ry="6.9" fill="#3ed6c6" transform="rotate(-10 94.8 807.2)" filter="url(#b2)" opacity="0.28"/>
<ellipse cx="94.8" cy="807.2" rx="9.6" ry="6.4" fill="#3ed6c6" transform="rotate(-10 94.8 807.2)" filter="url(#b1)"/>
<ellipse cx="123.5" cy="792.5" rx="4.8" ry="5.3" fill="#2cfce6" filter="url(#b2)" opacity="0.28"/>
<ellipse cx="123.5" cy="792.5" rx="4.3" ry="4.8" fill="#2cfce6" filter="url(#b1)"/>
<ellipse cx="150.7" cy="797.9" rx="7.1" ry="9.8" fill="#2fc0b0" filter="url(#b2)" opacity="0.28"/>
<ellipse cx="150.7" cy="797.9" rx="6.6" ry="9.3" fill="#2fc0b0" filter="url(#b1)"/>
<ellipse cx="141.8" cy="817.9" rx="8.5" ry="6.8" fill="#2cfce6" transform="rotate(18 141.8 817.9)" filter="url(#b2)" opacity="0.28"/>
<ellipse cx="141.8" cy="817.9" rx="8.0" ry="6.3" fill="#2cfce6" transform="rotate(18 141.8 817.9)" filter="url(#b1)"/>
<ellipse cx="127.9" cy="828.1" rx="7.4" ry="6.4" fill="#2ef6e0" filter="url(#b2)" opacity="0.28"/>
<ellipse cx="127.9" cy="828.1" rx="6.9" ry="5.9" fill="#2ef6e0" filter="url(#b1)"/>
<ellipse cx="80.4" cy="839.1" rx="7.1" ry="6.2" fill="#2ef0e0" filter="url(#b2)" opacity="0.28"/>
<ellipse cx="80.4" cy="839.1" rx="6.6" ry="5.7" fill="#2ef0e0" filter="url(#b1)"/>
<ellipse cx="141.4" cy="853" rx="7.1" ry="7.1" fill="#2ee6d6" filter="url(#b2)" opacity="0.28"/>
<ellipse cx="141.4" cy="853" rx="6.6" ry="6.6" fill="#2ee6d6" filter="url(#b1)"/>
<ellipse cx="175.9" cy="833" rx="6.2" ry="7.9" fill="#2ee0d0" filter="url(#b2)" opacity="0.28"/>
<ellipse cx="175.9" cy="833" rx="5.7" ry="7.4" fill="#2ee0d0" filter="url(#b1)"/>
<ellipse cx="208.8" cy="790.1" rx="6.9" ry="7.2" fill="#2fd0c0" filter="url(#b2)" opacity="0.28"/>
<ellipse cx="208.8" cy="790.1" rx="6.4" ry="6.7" fill="#2fd0c0" filter="url(#b1)"/>
<ellipse cx="214.4" cy="812.1" rx="6.4" ry="9.6" fill="#28aa9a" transform="rotate(5 214.4 812.1)" filter="url(#b2)" opacity="0.28"/>
<ellipse cx="214.4" cy="812.1" rx="5.9" ry="9.1" fill="#28aa9a" transform="rotate(5 214.4 812.1)" filter="url(#b1)"/>
<ellipse cx="224.8" cy="881.6" rx="7.6" ry="7.1" fill="#2fbfb0" filter="url(#b2)" opacity="0.28"/>
<ellipse cx="224.8" cy="881.6" rx="7.1" ry="6.6" fill="#2fbfb0" filter="url(#b1)"/>
<ellipse cx="104.1" cy="913.9" rx="9.3" ry="7.6" fill="#4cc8b0" transform="rotate(-8 104.1 913.9)" filter="url(#b2)" opacity="0.28"/>
<ellipse cx="104.1" cy="913.9" rx="8.8" ry="7.1" fill="#4cc8b0" transform="rotate(-8 104.1 913.9)" filter="url(#b1)"/>
<rect x="203.9" y="914.7" width="21.3" height="4.2" fill="#fff"/>
</g>
<g clip-path="url(#c2)">
<rect x="247" y="767" width="170" height="169" fill="#0d3009"/>
<g filter="url(#bg)">
<rect x="227.1" y="747.2" width="21.6" height="21.4" fill="#266116"/>
<rect x="248.0" y="747.2" width="21.6" height="21.4" fill="#266116"/>
<rect x="268.9" y="747.2" width="21.6" height="21.4" fill="#3d7d1b"/>
<rect x="289.9" y="747.2" width="21.6" height="21.4" fill="#266116"/>
<rect x="310.8" y="747.2" width="21.6" height="21.4" fill="#12360a"/>
<rect x="331.8" y="747.2" width="21.6" height="21.4" fill="#092309"/>
<rect x="352.8" y="747.2" width="21.6" height="21.4" fill="#091f05"/>
<rect x="373.7" y="747.2" width="21.6" height="21.4" fill="#061b05"/>
<rect x="394.7" y="747.2" width="21.6" height="21.4" fill="#0a2708"/>
<rect x="415.6" y="747.2" width="21.6" height="21.4" fill="#0a2708"/>
<rect x="227.1" y="768.0" width="21.6" height="21.4" fill="#266116"/>
<rect x="248.0" y="768.0" width="21.6" height="21.4" fill="#266116"/>
<rect x="268.9" y="768.0" width="21.6" height="21.4" fill="#3d7d1b"/>
<rect x="289.9" y="768.0" width="21.6" height="21.4" fill="#266116"/>
<rect x="310.8" y="768.0" width="21.6" height="21.4" fill="#12360a"/>
<rect x="331.8" y="768.0" width="21.6" height="21.4" fill="#092309"/>
<rect x="352.8" y="768.0" width="21.6" height="21.4" fill="#091f05"/>
<rect x="373.7" y="768.0" width="21.6" height="21.4" fill="#061b05"/>
<rect x="394.7" y="768.0" width="21.6" height="21.4" fill="#0a2708"/>
<rect x="415.6" y="768.0" width="21.6" height="21.4" fill="#0a2708"/>
<rect x="227.1" y="788.8" width="21.6" height="21.4" fill="#519523"/>
<rect x="248.0" y="788.8" width="21.6" height="21.4" fill="#519523"/>
<rect x="268.9" y="788.8" width="21.6" height="21.4" fill="#569523"/>
<rect x="289.9" y="788.8" width="21.6" height="21.4" fill="#266112"/>
<rect x="310.8" y="788.8" width="21.6" height="21.4" fill="#0c2808"/>
<rect x="331.8" y="788.8" width="21.6" height="21.4" fill="#113909"/>
<rect x="352.8" y="788.8" width="21.6" height="21.4" fill="#061304"/>
<rect x="373.7" y="788.8" width="21.6" height="21.4" fill="#081c05"/>
<rect x="394.7" y="788.8" width="21.6" height="21.4" fill="#1b3f0d"/>
<rect x="415.6" y="788.8" width="21.6" height="21.4" fill="#1b3f0d"/>
<rect x="227.1" y="809.5" width="21.6" height="21.4" fill="#071d06"/>
<rect x="248.0" y="809.5" width="21.6" height="21.4" fill="#071d06"/>
<rect x="268.9" y="809.5" width="21.6" height="21.4" fill="#051404"/>
<rect x="289.9" y="809.5" width="21.6" height="21.4" fill="#1a4e0d"/>
<rect x="310.8" y="809.5" width="21.6" height="21.4" fill="#071d06"/>
<rect x="331.8" y="809.5" width="21.6" height="21.4" fill="#061805"/>
<rect x="352.8" y="809.5" width="21.6" height="21.4" fill="#15440d"/>
<rect x="373.7" y="809.5" width="21.6" height="21.4" fill="#081c05"/>
<rect x="394.7" y="809.5" width="21.6" height="21.4" fill="#11390b"/>
<rect x="415.6" y="809.5" width="21.6" height="21.4" fill="#11390b"/>
<rect x="227.1" y="830.2" width="21.6" height="21.4" fill="#051404"/>
<rect x="248.0" y="830.2" width="21.6" height="21.4" fill="#051404"/>
<rect x="268.9" y="830.2" width="21.6" height="21.4" fill="#0c2808"/>
<rect x="289.9" y="830.2" width="21.6" height="21.4" fill="#679523"/>
<rect x="310.8" y="830.2" width="21.6" height="21.4" fill="#42801e"/>
<rect x="331.8" y="830.2" width="21.6" height="21.4" fill="#266112"/>
<rect x="352.8" y="830.2" width="21.6" height="21.4" fill="#266112"/>
<rect x="373.7" y="830.2" width="21.6" height="21.4" fill="#15440d"/>
<rect x="394.7" y="830.2" width="21.6" height="21.4" fill="#5c771f"/>
<rect x="415.6" y="830.2" width="21.6" height="21.4" fill="#5c771f"/>
<rect x="227.1" y="851.0" width="21.6" height="21.4" fill="#15440d"/>
<rect x="248.0" y="851.0" width="21.6" height="21.4" fill="#15440d"/>
<rect x="268.9" y="851.0" width="21.6" height="21.4" fill="#3d7d1b"/>
<rect x="289.9" y="851.0" width="21.6" height="21.4" fill="#2f6c16"/>
<rect x="310.8" y="851.0" width="21.6" height="21.4" fill="#266112"/>
<rect x="331.8" y="851.0" width="21.6" height="21.4" fill="#11390b"/>
<rect x="352.8" y="851.0" width="21.6" height="21.4" fill="#092309"/>
<rect x="373.7" y="851.0" width="21.6" height="21.4" fill="#11390b"/>
<rect x="394.7" y="851.0" width="21.6" height="21.4" fill="#11390b"/>
<rect x="415.6" y="851.0" width="21.6" height="21.4" fill="#11390b"/>
<rect x="227.1" y="871.8" width="21.6" height="21.4" fill="#051404"/>
<rect x="248.0" y="871.8" width="21.6" height="21.4" fill="#051404"/>
<rect x="268.9" y="871.8" width="21.6" height="21.4" fill="#15440d"/>
<rect x="289.9" y="871.8" width="21.6" height="21.4" fill="#508f21"/>
<rect x="310.8" y="871.8" width="21.6" height="21.4" fill="#071d06"/>
<rect x="331.8" y="871.8" width="21.6" height="21.4" fill="#020802"/>
<rect x="352.8" y="871.8" width="21.6" height="21.4" fill="#051405"/>
<rect x="373.7" y="871.8" width="21.6" height="21.4" fill="#0e2e0a"/>
<rect x="394.7" y="871.8" width="21.6" height="21.4" fill="#11350b"/>
<rect x="415.6" y="871.8" width="21.6" height="21.4" fill="#11350b"/>
<rect x="227.1" y="892.5" width="21.6" height="21.4" fill="#082506"/>
<rect x="248.0" y="892.5" width="21.6" height="21.4" fill="#082506"/>
<rect x="268.9" y="892.5" width="21.6" height="21.4" fill="#071d06"/>
<rect x="289.9" y="892.5" width="21.6" height="21.4" fill="#040c03"/>
<rect x="310.8" y="892.5" width="21.6" height="21.4" fill="#0c2808"/>
<rect x="331.8" y="892.5" width="21.6" height="21.4" fill="#020802"/>
<rect x="352.8" y="892.5" width="21.6" height="21.4" fill="#030c03"/>
<rect x="373.7" y="892.5" width="21.6" height="21.4" fill="#11350b"/>
<rect x="394.7" y="892.5" width="21.6" height="21.4" fill="#11350b"/>
<rect x="415.6" y="892.5" width="21.6" height="21.4" fill="#11350b"/>
<rect x="227.1" y="913.2" width="21.6" height="21.4" fill="#082506"/>
<rect x="248.0" y="913.2" width="21.6" height="21.4" fill="#082506"/>
<rect x="268.9" y="913.2" width="21.6" height="21.4" fill="#071d06"/>
<rect x="289.9" y="913.2" width="21.6" height="21.4" fill="#040c03"/>
<rect x="310.8" y="913.2" width="21.6" height="21.4" fill="#041104"/>
<rect x="331.8" y="913.2" width="21.6" height="21.4" fill="#020802"/>
<rect x="352.8" y="913.2" width="21.6" height="21.4" fill="#051004"/>
<rect x="373.7" y="913.2" width="21.6" height="21.4" fill="#0f330a"/>
<rect x="394.7" y="913.2" width="21.6" height="21.4" fill="#11350b"/>
<rect x="415.6" y="913.2" width="21.6" height="21.4" fill="#11350b"/>
<rect x="227.1" y="934.0" width="21.6" height="21.4" fill="#082506"/>
<rect x="248.0" y="934.0" width="21.6" height="21.4" fill="#082506"/>
<rect x="268.9" y="934.0" width="21.6" height="21.4" fill="#071d06"/>
<rect x="289.9" y="934.0" width="21.6" height="21.4" fill="#040c03"/>
<rect x="310.8" y="934.0" width="21.6" height="21.4" fill="#041104"/>
<rect x="331.8" y="934.0" width="21.6" height="21.4" fill="#020802"/>
<rect x="352.8" y="934.0" width="21.6" height="21.4" fill="#051004"/>
<rect x="373.7" y="934.0" width="21.6" height="21.4" fill="#0f330a"/>
<rect x="394.7" y="934.0" width="21.6" height="21.4" fill="#11350b"/>
<rect x="415.6" y="934.0" width="21.6" height="21.4" fill="#11350b"/>
</g>
<rect x="248" y="768" width="168" height="167" filter="url(#nz)" opacity="0.9" style="mix-blend-mode:overlay"/>
<rect x="248" y="768" width="168" height="167" filter="url(#nd)" opacity="0.9"/>
<ellipse cx="278" cy="793" rx="13" ry="9" fill="#c4c42c" filter="url(#b2)" opacity="0.85"/>
<ellipse cx="303" cy="845" rx="12" ry="9" fill="#e6d432" filter="url(#b2)" opacity="0.95"/>
<ellipse cx="317" cy="847.5" rx="14" ry="4.5" fill="#a8a828" transform="rotate(8 317 847.5)" filter="url(#b2)" opacity="0.75"/>
<ellipse cx="318.6" cy="770.3" rx="8" ry="4.5" fill="#d0d040" filter="url(#b2)" opacity="0.9"/>
<ellipse cx="336" cy="805" rx="7" ry="8.5" fill="#c8a020" filter="url(#b2)" opacity="0.85"/>
<ellipse cx="294.5" cy="890" rx="6" ry="11" fill="#f0e040" transform="rotate(-30 294.5 890)" filter="url(#b2)"/>
<ellipse cx="307" cy="884.5" rx="8.5" ry="9.5" fill="#c8d040" filter="url(#b2)" opacity="0.85"/>
<ellipse cx="404" cy="842" rx="5" ry="14" fill="#c89020" transform="rotate(-22 404 842)" filter="url(#b2)" opacity="0.9"/>
<ellipse cx="405" cy="852.5" rx="9" ry="8" fill="#c4c444" filter="url(#b2)" opacity="0.85"/>
<ellipse cx="347.5" cy="852" rx="9.5" ry="7.5" fill="#c0d040" filter="url(#b2)" opacity="0.85"/>
<ellipse cx="329" cy="904.5" rx="6" ry="6.5" fill="#d8b020" filter="url(#b2)" opacity="0.9"/>
<ellipse cx="409" cy="803" rx="6" ry="5" fill="#b87418" filter="url(#b2)" opacity="0.75"/>
<ellipse cx="411" cy="830" rx="6.5" ry="5" fill="#c89820" filter="url(#b2)" opacity="0.8"/>
<ellipse cx="291" cy="911" rx="7.5" ry="6.5" fill="#b4c430" filter="url(#b2)" opacity="0.8"/>
<ellipse cx="256" cy="777" rx="8" ry="7" fill="#a8c040" filter="url(#b2)" opacity="0.7"/>
<ellipse cx="263" cy="915" rx="8" ry="11" fill="#1e9030" filter="url(#b2)" opacity="0.8"/>
<ellipse cx="300" cy="781" rx="8" ry="8" fill="#209838" filter="url(#b2)" opacity="0.5"/>
<ellipse cx="254.5" cy="776.4" rx="7.2" ry="6.6" fill="#b0f8d8" filter="url(#b2)" opacity="0.28"/>
<ellipse cx="254.5" cy="776.4" rx="6.6000000000000005" ry="6.0" fill="#b0f8d8" filter="url(#b1)"/>
<ellipse cx="300.2" cy="780.2" rx="7.6" ry="8.2" fill="#40e8b0" filter="url(#b2)" opacity="0.28"/>
<ellipse cx="300.2" cy="780.2" rx="7.0" ry="7.6000000000000005" fill="#40e8b0" filter="url(#b1)"/>
<ellipse cx="316.7" cy="781.4" rx="9" ry="7.6" fill="#90f0c0" filter="url(#b2)" opacity="0.28"/>
<ellipse cx="316.7" cy="781.4" rx="8.4" ry="7.0" fill="#90f0c0" filter="url(#b1)"/>
<ellipse cx="318.8" cy="770.2" rx="7" ry="4.3" fill="#e0f0a0" filter="url(#b2)" opacity="0.28"/>
<ellipse cx="318.8" cy="770.2" rx="6.4" ry="3.6999999999999997" fill="#e0f0a0" filter="url(#b1)"/>
<ellipse cx="271" cy="794.8" rx="8.2" ry="6.7" fill="#c0f8e0" filter="url(#b2)" opacity="0.28"/>
<ellipse cx="271" cy="794.8" rx="7.6000000000000005" ry="6.1000000000000005" fill="#c0f8e0" filter="url(#b1)"/>
<ellipse cx="286.2" cy="795.3" rx="6.6" ry="8.2" fill="#d8fce8" filter="url(#b2)" opacity="0.28"/>
<ellipse cx="286.2" cy="795.3" rx="6.0" ry="7.6000000000000005" fill="#d8fce8" filter="url(#b1)"/>
<ellipse cx="333.6" cy="804.4" rx="6.8" ry="8.6" fill="#b4f0a0" filter="url(#b2)" opacity="0.28"/>
<ellipse cx="333.6" cy="804.4" rx="6.2" ry="8.0" fill="#b4f0a0" filter="url(#b1)"/>
<ellipse cx="293.2" cy="815.9" rx="7.4" ry="8.5" fill="#30e8d0" filter="url(#b2)" opacity="0.28"/>
<ellipse cx="293.2" cy="815.9" rx="6.800000000000001" ry="7.9" fill="#30e8d0" filter="url(#b1)"/>
<ellipse cx="294.2" cy="828.2" rx="7.7" ry="6.2" fill="#30e8c8" filter="url(#b2)" opacity="0.28"/>
<ellipse cx="294.2" cy="828.2" rx="7.1000000000000005" ry="5.6000000000000005" fill="#30e8c8" filter="url(#b1)"/>
<ellipse cx="250.5" cy="814.8" rx="5.2" ry="7.2" fill="#30e8d8" filter="url(#b2)" opacity="0.28"/>
<ellipse cx="250.5" cy="814.8" rx="4.6000000000000005" ry="6.6000000000000005" fill="#30e8d8" filter="url(#b1)"/>
<ellipse cx="251.2" cy="832.2" rx="6.2" ry="7.2" fill="#30e8d8" filter="url(#b2)" opacity="0.28"/>
<ellipse cx="251.2" cy="832.2" rx="5.6000000000000005" ry="6.6000000000000005" fill="#30e8d8" filter="url(#b1)"/>
<ellipse cx="326.9" cy="828.5" rx="8.2" ry="6.6" fill="#30d8a0" filter="url(#b2)" opacity="0.28"/>
<ellipse cx="326.9" cy="828.5" rx="7.6000000000000005" ry="6.0" fill="#30d8a0" filter="url(#b1)"/>
<ellipse cx="276.6" cy="841.8" rx="7.6" ry="6.6" fill="#30e8c8" filter="url(#b2)" opacity="0.28"/>
<ellipse cx="276.6" cy="841.8" rx="7.0" ry="6.0" fill="#30e8c8" filter="url(#b1)"/>
<ellipse cx="303.3" cy="844.2" rx="7.6" ry="8.6" fill="#f8fcd0" filter="url(#b2)" opacity="0.28"/>
<ellipse cx="303.3" cy="844.2" rx="7.0" ry="8.0" fill="#f8fcd0" filter="url(#b1)"/>
<ellipse cx="354.5" cy="776" rx="8.2" ry="7.6" fill="#30d890" filter="url(#b2)" opacity="0.28"/>
<ellipse cx="354.5" cy="776" rx="7.6000000000000005" ry="7.0" fill="#30d890" filter="url(#b1)"/>
<ellipse cx="376.4" cy="779.3" rx="8.2" ry="5.3" fill="#50e8b0" transform="rotate(-35 376.4 779.3)" filter="url(#b2)" opacity="0.28"/>
<ellipse cx="376.4" cy="779.3" rx="7.6000000000000005" ry="4.7" fill="#50e8b0" transform="rotate(-35 376.4 779.3)" filter="url(#b1)"/>
<ellipse cx="387.8" cy="770.9" rx="8" ry="4.5" fill="#30b870" filter="url(#b2)" opacity="0.28"/>
<ellipse cx="387.8" cy="770.9" rx="7.4" ry="3.9" fill="#30b870" filter="url(#b1)"/>
<ellipse cx="412.8" cy="772.9" rx="5" ry="6" fill="#30b070" filter="url(#b2)" opacity="0.28"/>
<ellipse cx="412.8" cy="772.9" rx="4.4" ry="5.4" fill="#30b070" filter="url(#b1)"/>
<ellipse cx="389.8" cy="794.6" rx="8.2" ry="6" fill="#40e0a0" transform="rotate(-25 389.8 794.6)" filter="url(#b2)" opacity="0.28"/>
<ellipse cx="389.8" cy="794.6" rx="7.6000000000000005" ry="5.4" fill="#40e0a0" transform="rotate(-25 389.8 794.6)" filter="url(#b1)"/>
<ellipse cx="407.2" cy="796.4" rx="7" ry="8.2" fill="#60e0a0" filter="url(#b2)" opacity="0.28"/>
<ellipse cx="407.2" cy="796.4" rx="6.4" ry="7.6000000000000005" fill="#60e0a0" filter="url(#b1)"/>
<ellipse cx="357.6" cy="821.5" rx="9" ry="7.6" fill="#30c880" filter="url(#b2)" opacity="0.28"/>
<ellipse cx="357.6" cy="821.5" rx="8.4" ry="7.0" fill="#30c880" filter="url(#b1)"/>
<ellipse cx="410" cy="823" rx="7" ry="7.2" fill="#40f0d0" filter="url(#b2)" opacity="0.28"/>
<ellipse cx="410" cy="823" rx="6.4" ry="6.6000000000000005" fill="#40f0d0" filter="url(#b1)"/>
<ellipse cx="355.5" cy="841.2" rx="8.2" ry="6.6" fill="#30e0b0" transform="rotate(30 355.5 841.2)" filter="url(#b2)" opacity="0.28"/>
<ellipse cx="355.5" cy="841.2" rx="7.6000000000000005" ry="6.0" fill="#30e0b0" transform="rotate(30 355.5 841.2)" filter="url(#b1)"/>
<ellipse cx="347.2" cy="852.5" rx="8.6" ry="7.2" fill="#90f0c0" filter="url(#b2)" opacity="0.28"/>
<ellipse cx="347.2" cy="852.5" rx="8.0" ry="6.6000000000000005" fill="#90f0c0" filter="url(#b1)"/>
<ellipse cx="374" cy="847.1" rx="4" ry="4.5" fill="#30d0a0" filter="url(#b2)" opacity="0.28"/>
<ellipse cx="374" cy="847.1" rx="3.4" ry="3.9" fill="#30d0a0" filter="url(#b1)"/>
<ellipse cx="399.6" cy="847.8" rx="5" ry="6" fill="#a0e890" filter="url(#b2)" opacity="0.28"/>
<ellipse cx="399.6" cy="847.8" rx="4.4" ry="5.4" fill="#a0e890" filter="url(#b1)"/>
<ellipse cx="295.1" cy="859.1" rx="8.6" ry="7.2" fill="#40e8b0" filter="url(#b2)" opacity="0.28"/>
<ellipse cx="295.1" cy="859.1" rx="8.0" ry="6.6000000000000005" fill="#40e8b0" filter="url(#b1)"/>
<ellipse cx="274.4" cy="865" rx="7.2" ry="6.6" fill="#80f0d0" filter="url(#b2)" opacity="0.28"/>
<ellipse cx="274.4" cy="865" rx="6.6000000000000005" ry="6.0" fill="#80f0d0" filter="url(#b1)"/>
<ellipse cx="290.3" cy="874.1" rx="8.2" ry="6.6" fill="#30e8d0" transform="rotate(-20 290.3 874.1)" filter="url(#b2)" opacity="0.28"/>
<ellipse cx="290.3" cy="874.1" rx="7.6000000000000005" ry="6.0" fill="#30e8d0" transform="rotate(-20 290.3 874.1)" filter="url(#b1)"/>
<ellipse cx="309.4" cy="869.7" rx="5" ry="5" fill="#30c060" filter="url(#b2)" opacity="0.28"/>
<ellipse cx="309.4" cy="869.7" rx="4.4" ry="4.4" fill="#30c060" filter="url(#b1)"/>
<ellipse cx="306.6" cy="884.3" rx="7.2" ry="8.2" fill="#c0fce0" filter="url(#b2)" opacity="0.28"/>
<ellipse cx="306.6" cy="884.3" rx="6.6000000000000005" ry="7.6000000000000005" fill="#c0fce0" filter="url(#b1)"/>
<ellipse cx="294.5" cy="889.7" rx="4.6" ry="8.2" fill="#fcfcc0" transform="rotate(-30 294.5 889.7)" filter="url(#b2)" opacity="0.28"/>
<ellipse cx="294.5" cy="889.7" rx="4.0" ry="7.6000000000000005" fill="#fcfcc0" transform="rotate(-30 294.5 889.7)" filter="url(#b1)"/>
<ellipse cx="287.5" cy="902.5" rx="5" ry="5" fill="#20c070" filter="url(#b2)" opacity="0.28"/>
<ellipse cx="287.5" cy="902.5" rx="4.4" ry="4.4" fill="#20c070" filter="url(#b1)"/>
<ellipse cx="263.3" cy="915.8" rx="6.6" ry="9.2" fill="#30e8a0" filter="url(#b2)" opacity="0.28"/>
<ellipse cx="263.3" cy="915.8" rx="6.0" ry="8.6" fill="#30e8a0" filter="url(#b1)"/>
<ellipse cx="291" cy="916.7" rx="8.6" ry="9.2" fill="#70f0b0" filter="url(#b2)" opacity="0.28"/>
<ellipse cx="291" cy="916.7" rx="8.0" ry="8.6" fill="#70f0b0" filter="url(#b1)"/>
<ellipse cx="328.4" cy="912.5" rx="7.6" ry="7.2" fill="#90f8e0" filter="url(#b2)" opacity="0.28"/>
<ellipse cx="328.4" cy="912.5" rx="7.0" ry="6.6000000000000005" fill="#90f8e0" filter="url(#b1)"/>
<ellipse cx="333" cy="931.4" rx="5" ry="5" fill="#30e0c0" filter="url(#b2)" opacity="0.28"/>
<ellipse cx="333" cy="931.4" rx="4.4" ry="4.4" fill="#30e0c0" filter="url(#b1)"/>
<ellipse cx="382.7" cy="860.6" rx="9.2" ry="8.2" fill="#40d890" filter="url(#b2)" opacity="0.28"/>
<ellipse cx="382.7" cy="860.6" rx="8.6" ry="7.6000000000000005" fill="#40d890" filter="url(#b1)"/>
<ellipse cx="374.2" cy="879.9" rx="7.6" ry="9.2" fill="#40d890" filter="url(#b2)" opacity="0.28"/>
<ellipse cx="374.2" cy="879.9" rx="7.0" ry="8.6" fill="#40d890" filter="url(#b1)"/>
<ellipse cx="392.5" cy="880.8" rx="7.2" ry="6.6" fill="#40e8b0" filter="url(#b2)" opacity="0.28"/>
<ellipse cx="392.5" cy="880.8" rx="6.6000000000000005" ry="6.0" fill="#40e8b0" filter="url(#b1)"/>
<ellipse cx="383.9" cy="878.8" rx="3.6" ry="3.6" fill="#30e040" filter="url(#b2)" opacity="0.28"/>
<ellipse cx="383.9" cy="878.8" rx="3.0" ry="3.0" fill="#30e040" filter="url(#b1)"/>
<ellipse cx="394.4" cy="869.7" rx="3.3" ry="3.3" fill="#30e040" filter="url(#b2)" opacity="0.28"/>
<ellipse cx="394.4" cy="869.7" rx="2.6999999999999997" ry="2.6999999999999997" fill="#30e040" filter="url(#b1)"/>
<ellipse cx="406" cy="888.3" rx="4.6" ry="4.6" fill="#70f0c0" filter="url(#b2)" opacity="0.28"/>
<ellipse cx="406" cy="888.3" rx="4.0" ry="4.0" fill="#70f0c0" filter="url(#b1)"/>
<ellipse cx="402.3" cy="893.5" rx="4.6" ry="4.6" fill="#70f0c0" filter="url(#b2)" opacity="0.28"/>
<ellipse cx="402.3" cy="893.5" rx="4.0" ry="4.0" fill="#70f0c0" filter="url(#b1)"/>
<ellipse cx="413.4" cy="882.1" rx="4" ry="8" fill="#40d8a0" filter="url(#b2)" opacity="0.28"/>
<ellipse cx="413.4" cy="882.1" rx="3.4" ry="7.4" fill="#40d8a0" filter="url(#b1)"/>
<ellipse cx="390.4" cy="911.4" rx="7.6" ry="10.2" fill="#40d890" transform="rotate(-15 390.4 911.4)" filter="url(#b2)" opacity="0.28"/>
<ellipse cx="390.4" cy="911.4" rx="7.0" ry="9.6" fill="#40d890" transform="rotate(-15 390.4 911.4)" filter="url(#b1)"/>
<ellipse cx="401.1" cy="924.9" rx="7.2" ry="7.6" fill="#40e0a0" filter="url(#b2)" opacity="0.28"/>
<ellipse cx="401.1" cy="924.9" rx="6.6000000000000005" ry="7.0" fill="#40e0a0" filter="url(#b1)"/>
<ellipse cx="412.3" cy="927.8" rx="5" ry="7.6" fill="#50d890" filter="url(#b2)" opacity="0.28"/>
<ellipse cx="412.3" cy="927.8" rx="4.4" ry="7.0" fill="#50d890" filter="url(#b1)"/>
<ellipse cx="410.1" cy="918.9" rx="3.5" ry="3.5" fill="#30e0c0" filter="url(#b2)" opacity="0.28"/>
<ellipse cx="410.1" cy="918.9" rx="2.9" ry="2.9" fill="#30e0c0" filter="url(#b1)"/>
<ellipse cx="413.4" cy="908.8" rx="3" ry="3" fill="#30e0c0" filter="url(#b2)" opacity="0.28"/>
<ellipse cx="413.4" cy="908.8" rx="2.4" ry="2.4" fill="#30e0c0" filter="url(#b1)"/>
<ellipse cx="337.7" cy="930.3" rx="8" ry="5.6" fill="#30d890" filter="url(#b2)" opacity="0.28"/>
<ellipse cx="337.7" cy="930.3" rx="7.4" ry="5.0" fill="#30d890" filter="url(#b1)"/>
<ellipse cx="377" cy="930" rx="5.6" ry="7.2" fill="#a0f8d0" filter="url(#b2)" opacity="0.28"/>
<ellipse cx="377" cy="930" rx="5.0" ry="6.6000000000000005" fill="#a0f8d0" filter="url(#b1)"/>
<ellipse cx="288" cy="781" rx="3" ry="3" fill="#30c040" filter="url(#b2)" opacity="0.28"/>
<ellipse cx="288" cy="781" rx="2.4" ry="2.4" fill="#30c040" filter="url(#b1)"/>
<ellipse cx="329" cy="779" rx="3" ry="3" fill="#30c040" filter="url(#b2)" opacity="0.28"/>
<ellipse cx="329" cy="779" rx="2.4" ry="2.4" fill="#30c040" filter="url(#b1)"/>
<ellipse cx="317" cy="821" rx="3" ry="3" fill="#30c040" filter="url(#b2)" opacity="0.28"/>
<ellipse cx="317" cy="821" rx="2.4" ry="2.4" fill="#30c040" filter="url(#b1)"/>
<ellipse cx="265.5" cy="813" rx="2.8" ry="2.8" fill="#30a030" filter="url(#b2)" opacity="0.28"/>
<ellipse cx="265.5" cy="813" rx="2.2" ry="2.2" fill="#30a030" filter="url(#b1)"/>
</g>
</g>
</svg>
</body></html>
